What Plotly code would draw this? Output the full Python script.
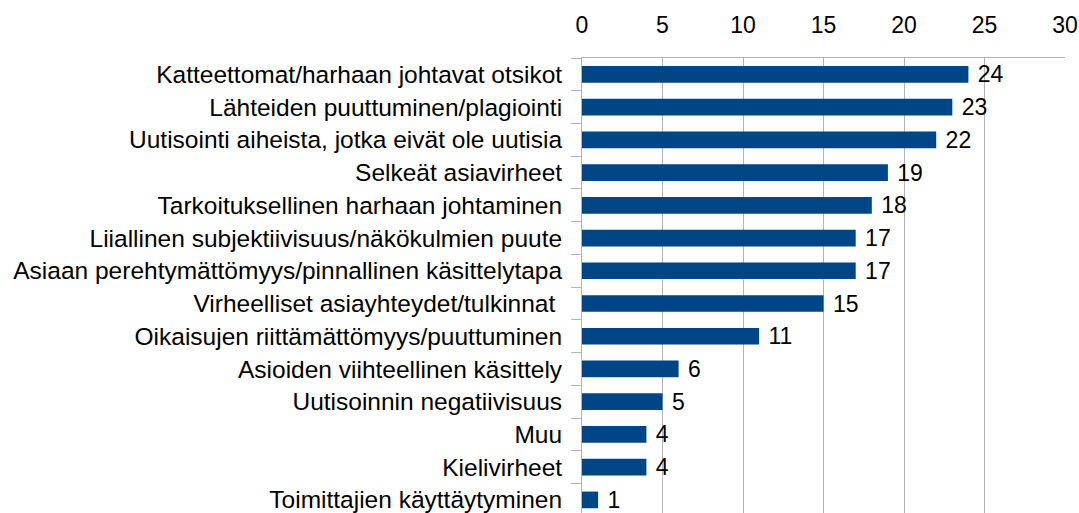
import plotly.graph_objects as go

categories = [
    "Katteettomat/harhaan johtavat otsikot",
    "Lähteiden puuttuminen/plagiointi",
    "Uutisointi aiheista, jotka eivät ole uutisia",
    "Selkeät asiavirheet",
    "Tarkoituksellinen harhaan johtaminen",
    "Liiallinen subjektiivisuus/näkökulmien puute",
    "Asiaan perehtymättömyys/pinnallinen käsittelytapa",
    "Virheelliset asiayhteydet/tulkinnat ",
    "Oikaisujen riittämättömyys/puuttuminen",
    "Asioiden viihteellinen käsittely",
    "Uutisoinnin negatiivisuus",
    "Muu",
    "Kielivirheet",
    "Toimittajien käyttäytyminen",
]
values = [24, 23, 22, 19, 18, 17, 17, 15, 11, 6, 5, 4, 4, 1]
x_ticks = [0, 5, 10, 15, 20, 25, 30]

fig = go.Figure(
    go.Bar(
        y=categories,
        x=values,
        orientation="h",
        marker=dict(color="#004586", line=dict(width=0)),
        width=0.51,
        text=["\u00a0" + str(v) for v in values],
        textposition="outside",
        constraintext="none",
        textfont=dict(color="black", size=23),
        cliponaxis=False,
        hoverinfo="skip",
    )
)

fig.update_layout(
    width=1079,
    height=513,
    margin=dict(l=582, r=14, t=58, b=0),
    paper_bgcolor="white",
    plot_bgcolor="white",
    font=dict(family="Liberation Sans, Arial, sans-serif", size=23, color="black"),
    showlegend=False,
)
fig.update_xaxes(
    side="top",
    range=[0, 30],
    tickvals=x_ticks,
    showgrid=True,
    gridcolor="#b3b3b3",
    gridwidth=1,
    showline=True,
    linecolor="#b3b3b3",
    linewidth=1,
    ticks="",
    zeroline=False,
    tickfont=dict(size=23),
    ticklabelstandoff=15,
    automargin=False,
)
fig.update_yaxes(
    range=[13.40, -0.5],
    showline=True,
    linecolor="#b3b3b3",
    linewidth=1,
    ticks="outside",
    tickson="boundaries",
    ticklen=10,
    tickcolor="#b3b3b3",
    showgrid=False,
    tickfont=dict(size=24.5),
    ticklabelstandoff=14,
    automargin=False,
)

fig.write_html(
    "out.html",
    config={"displayModeBar": False},
    post_script="document.body.style.margin='0';document.body.style.overflow='hidden';",
)
